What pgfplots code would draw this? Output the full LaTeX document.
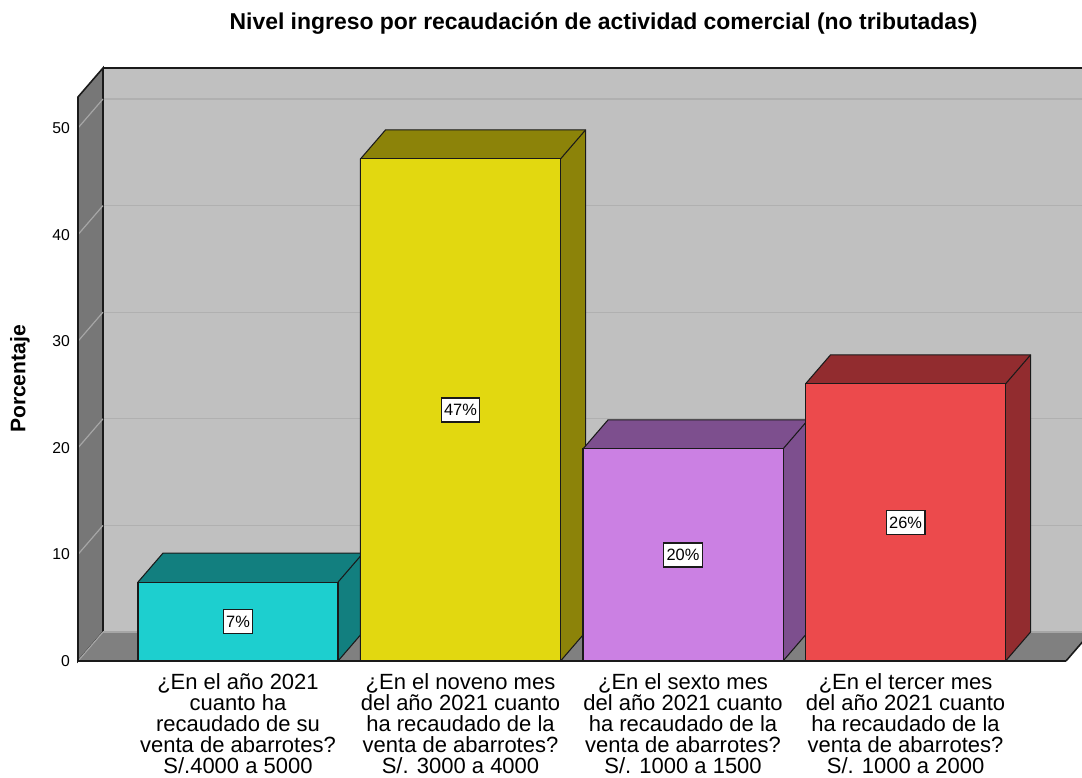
\documentclass[border=0pt]{standalone}
\usepackage{pgfplots}
\pgfplotsset{compat=1.18}
\usepackage{fontspec}
\setmainfont{Liberation Sans}
\definecolor{wallback}{HTML}{C0C0C0}
\definecolor{gridback}{HTML}{B0B0B0}
\definecolor{sidewall}{HTML}{777777}
\definecolor{gridside}{HTML}{A6A6A6}
\definecolor{floorc}{HTML}{808080}
\definecolor{edge}{HTML}{1A1A1A}
\definecolor{cA}{HTML}{1DCFCF}\definecolor{dA}{HTML}{127F7F}
\definecolor{cB}{HTML}{E2D810}\definecolor{dB}{HTML}{8C8309}
\definecolor{cC}{HTML}{CB80E3}\definecolor{dC}{HTML}{7D4F8E}
\definecolor{cD}{HTML}{EC4A4C}\definecolor{dD}{HTML}{922C2F}
\begin{document}
\begin{tikzpicture}[x=1pt,y=1pt]
\useasboundingbox (0,0) rectangle (811.5,583.5);
\begin{axis}[
  at={(58.5pt,87.75pt)}, anchor=south west,
  scale only axis, width=741pt, height=444.75pt,
  xmin=0.281, xmax=4.721, ymin=0, ymax=55.63,
  clip=false,
  axis line style={draw=none},
  major tick length=0pt,
  tick style={draw=none},
  /pgf/number format/assume math mode=true,
  ytick={0,10,20,30,40,50},
  yticklabel style={font=\fontsize{11.8}{14}\selectfont, xshift=-2.5pt},
  xtick={1,2,3,4},
  xticklabels={
    {¿En el año 2021\\cuanto ha\\recaudado de su\\venta de abarrotes?\\S/.4000 a 5000},
    {¿En el noveno mes\\del año 2021 cuanto\\ha recaudado de la\\venta de abarrotes?\\S/. 3000 a 4000},
    {¿En el sexto mes\\del año 2021 cuanto\\ha recaudado de la\\venta de abarrotes?\\S/. 1000 a 1500},
    {¿En el tercer mes\\del año 2021 cuanto\\ha recaudado de la\\venta de abarrotes?\\S/. 1000 a 2000}},
  xticklabel style={align=center, font=\fontsize{16.5}{15.8}\selectfont, anchor=north, yshift=-5.6pt},
  ylabel={Porcentaje},
  ylabel style={at={(axis description cs:-0.0587,0.4755)}, anchor=center, font=\bfseries\fontsize{15.8}{18}\selectfont},
  title={Nivel ingreso por recaudación de actividad comercial (no tributadas)},
  title style={at={(axis description cs:0.532,1.061)}, anchor=center, font=\bfseries\fontsize{17.2}{20}\selectfont},
]
% back wall
\addplot[fill=wallback, draw=none] coordinates {(0.3934,2.72) (5.0,2.72) (5.0,55.63) (0.3934,55.63)} -- cycle;
\addplot[gridback, line width=1pt] coordinates {(0.3934,12.72) (5.0,12.72)};
\addplot[gridback, line width=1pt] coordinates {(0.3934,22.72) (5.0,22.72)};
\addplot[gridback, line width=1pt] coordinates {(0.3934,32.72) (5.0,32.72)};
\addplot[gridback, line width=1pt] coordinates {(0.3934,42.72) (5.0,42.72)};
\addplot[gridback, line width=1pt] coordinates {(0.3934,52.72) (5.0,52.72)};
\addplot[edge, line width=1.6pt] coordinates {(0.3934,55.63) (5.0,55.63)};
% left wall
\addplot[fill=sidewall, draw=edge, line width=1.2pt] coordinates {(0.281,0) (0.3934,2.72) (0.3934,55.63) (0.281,52.91)} -- cycle;
\addplot[gridside, line width=0.9pt] coordinates {(0.281,10) (0.3934,12.72)};
\addplot[gridside, line width=0.9pt] coordinates {(0.281,20) (0.3934,22.72)};
\addplot[gridside, line width=0.9pt] coordinates {(0.281,30) (0.3934,32.72)};
\addplot[gridside, line width=0.9pt] coordinates {(0.281,40) (0.3934,42.72)};
\addplot[gridside, line width=0.9pt] coordinates {(0.281,50) (0.3934,52.72)};
% floor
\addplot[fill=floorc, draw=none] coordinates {(0.281,0) (4.721,0) (4.8334,2.72) (0.3934,2.72)} -- cycle;
\addplot[gridside, line width=0.9pt] coordinates {(0.281,0) (0.3934,2.72)};
\addplot[gridside, line width=0.9pt] coordinates {(0.3934,2.72) (5.0,2.72)};
\addplot[edge, line width=1.2pt] coordinates {(4.721,0) (4.8334,2.72)};
\addplot[edge, line width=1.8pt] coordinates {(0.281,0) (4.721,0)};
\addplot[edge, line width=1.8pt] coordinates {(0.281,0) (0.281,52.91)};
% bar 1 : 7.4
\addplot[fill=dA, draw=edge, line width=0.8pt] coordinates {(0.5505,0) (1.4495,0) (1.5619,2.72) (1.5619,10.12) (0.6629,10.12) (0.5505,7.4)} -- cycle;
\addplot[fill=cA, draw=edge, line width=0.8pt] coordinates {(0.5505,0) (1.4495,0) (1.4495,7.4) (0.5505,7.4)} -- cycle;
\addplot[edge, line width=0.8pt] coordinates {(1.4495,7.4) (1.5619,10.12)};
% bar 2 : 47.1
\addplot[fill=dB, draw=edge, line width=0.8pt] coordinates {(1.5505,0) (2.4495,0) (2.5619,2.72) (2.5619,49.82) (1.6629,49.82) (1.5505,47.1)} -- cycle;
\addplot[fill=cB, draw=edge, line width=0.8pt] coordinates {(1.5505,0) (2.4495,0) (2.4495,47.1) (1.5505,47.1)} -- cycle;
\addplot[edge, line width=0.8pt] coordinates {(2.4495,47.1) (2.5619,49.82)};
% bar 3 : 19.9
\addplot[fill=dC, draw=edge, line width=0.8pt] coordinates {(2.5505,0) (3.4495,0) (3.5619,2.72) (3.5619,22.62) (2.6629,22.62) (2.5505,19.9)} -- cycle;
\addplot[fill=cC, draw=edge, line width=0.8pt] coordinates {(2.5505,0) (3.4495,0) (3.4495,19.9) (2.5505,19.9)} -- cycle;
\addplot[edge, line width=0.8pt] coordinates {(3.4495,19.9) (3.5619,22.62)};
% bar 4 : 26.0
\addplot[fill=dD, draw=edge, line width=0.8pt] coordinates {(3.5505,0) (4.4495,0) (4.5619,2.72) (4.5619,28.72) (3.6629,28.72) (3.5505,26.0)} -- cycle;
\addplot[fill=cD, draw=edge, line width=0.8pt] coordinates {(3.5505,0) (4.4495,0) (4.4495,26.0) (3.5505,26.0)} -- cycle;
\addplot[edge, line width=0.8pt] coordinates {(4.4495,26.0) (4.5619,28.72)};
% value labels
\addplot[draw=none, mark=none, nodes near coords, point meta=explicit symbolic,
  nodes near coords style={anchor=center, fill=white, draw=edge, line width=0.9pt,
  font=\fontsize{12.3}{14}\selectfont, inner xsep=2.2pt, inner ysep=0pt, minimum height=18pt}]
  coordinates {(1,3.7) [7\%] (2,23.55) [47\%] (3,9.95) [20\%] (4,13.0) [26\%]};
\end{axis}
\end{tikzpicture}
\end{document}
